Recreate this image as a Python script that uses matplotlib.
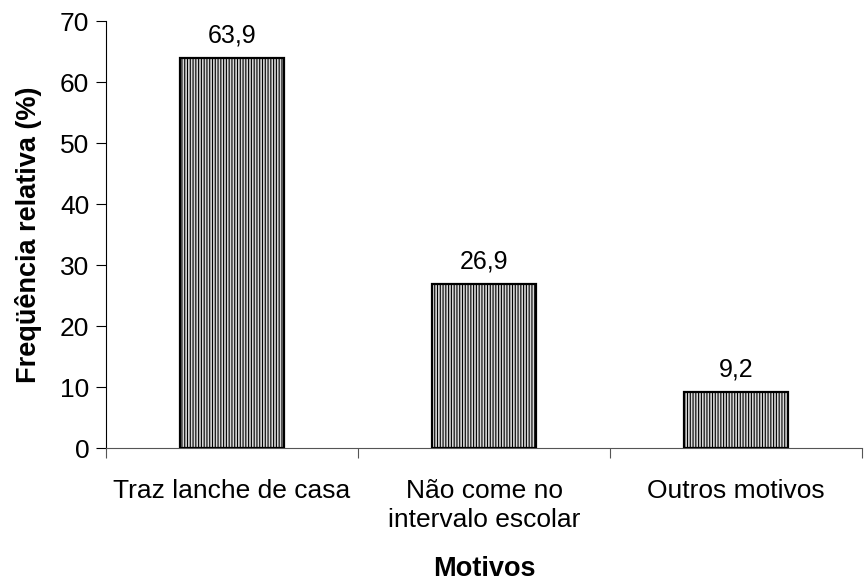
import numpy as np
import matplotlib
matplotlib.use("Agg")
import matplotlib.pyplot as plt

plt.rcParams["font.family"] = ["Liberation Sans", "DejaVu Sans"]
plt.rcParams["hatch.color"] = "#ababab"
plt.rcParams["hatch.linewidth"] = 0.8

categorias = ["Traz lanche de casa", "Não come no\nintervalo escolar", "Outros motivos"]
valores = [63.9, 26.9, 9.2]
rotulos = ["63,9", "26,9", "9,2"]

fig = plt.figure(figsize=(8.64, 5.88), dpi=100)
ax = fig.add_axes([0.1227, 0.238, 0.875, 0.726])

x = np.arange(len(categorias))
ax.bar(x, valores, width=0.41, color="#d8d8d8", edgecolor="black", linewidth=1.6,
       hatch="||||||", zorder=3)
for xi, v, r in zip(x, valores, rotulos):
    ax.text(xi, v + 2.6, r, ha="center", va="baseline", fontsize=18)

ax.set_xlim(-0.5, 2.5)
ax.set_ylim(0, 70)
ax.set_yticks(np.arange(0, 71, 10))
ax.tick_params(axis="y", labelsize=19, length=7, direction="out", pad=5)

# categories labelled in the middle, ticks on the boundaries
ax.set_xticks([-0.5, 0.5, 1.5, 2.5])
ax.set_xticklabels([])
ax.set_xticks(x, minor=True)
ax.set_xticklabels(categorias, minor=True, fontsize=19, linespacing=1.3)
ax.tick_params(axis="x", which="major", length=7, direction="out", color="#555555")
ax.tick_params(axis="x", which="minor", length=0, pad=22)

ax.spines["top"].set_visible(False)
ax.spines["right"].set_visible(False)
ax.spines["bottom"].set_color("#555555")

ax.set_ylabel("Freqüência relativa (%)", fontsize=19.5, fontweight="bold", labelpad=13)
ax.set_xlabel("Motivos", fontsize=19.5, fontweight="bold", labelpad=17)

fig.savefig("out.png", dpi=100)
